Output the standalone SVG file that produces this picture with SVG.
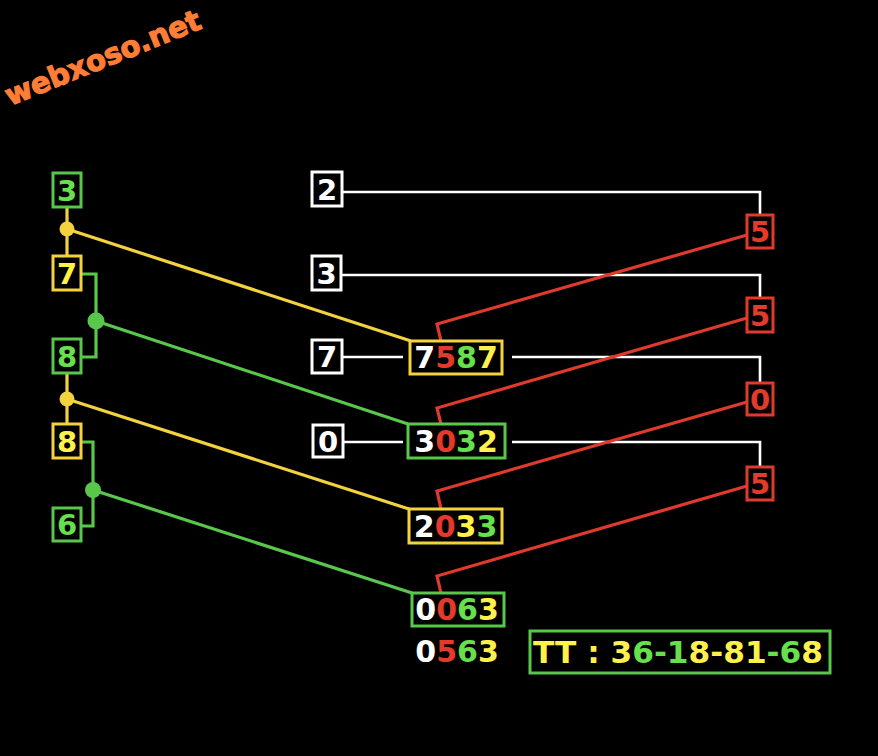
<svg xmlns="http://www.w3.org/2000/svg" width="878" height="756" viewBox="0 0 878 756">
<style>
.bg{fill:#000}
text{font-family:"DejaVu Sans","Liberation Sans",sans-serif;font-weight:bold}
.d{font-size:29px;text-anchor:middle}
.q{font-size:30px;text-anchor:middle}
.box{fill:#000;stroke-width:3}
.g{stroke:#58c74b}.y{stroke:#f3d23f}.w{stroke:#fff}.r{stroke:#df3a2b}
.tg{fill:#66e04c}.ty{fill:#fff14c}.tw{fill:#fff}.tr{fill:#e33a2a}
.ln{fill:none;stroke-width:3.2;stroke-linejoin:miter}
.wl{fill:none;stroke:#fff;stroke-width:2.6}
</style>
<rect class="bg" x="0" y="0" width="878" height="756"/>
<text x="10" y="106" transform="rotate(-22 10 106)" style="font-size:29px;fill:#ff7d35;stroke:#ff7d35;stroke-width:1.2;font-family:'DejaVu Sans',sans-serif;font-weight:bold">webxoso.net</text>

<g id="connectors">
<path class="wl" d="M342 192H760V215"/>
<path class="wl" d="M341 275H760V298"/>
<path class="wl" d="M342 357H403"/>
<path class="wl" d="M512 357H760V383"/>
<path class="wl" d="M343 442H403"/>
<path class="wl" d="M512 442H760V467"/>
<path class="ln r" d="M747 235L437 324L441 341"/>
<path class="ln r" d="M747 318L437 408L441 424"/>
<path class="ln r" d="M747 402L437 491L441 509"/>
<path class="ln r" d="M747 486L437 576L441 593"/>
<path class="ln y" d="M67 207V256"/>
<path class="ln y" d="M67 229L411 341"/>
<path class="ln y" d="M67 373V424"/>
<path class="ln y" d="M67 399L409 509"/>
<path class="ln g" d="M81 274H96V357H81"/>
<path class="ln g" d="M96 321L408 424"/>
<path class="ln g" d="M81 442H93V526H81"/>
<path class="ln g" d="M93 490L412 593"/>
<circle cx="67" cy="229" r="7.5" fill="#f3d23f"/>
<circle cx="96" cy="321" r="8.5" fill="#58c74b"/>
<circle cx="67" cy="399" r="7.5" fill="#f3d23f"/>
<circle cx="93" cy="490" r="8" fill="#58c74b"/>
</g>

<g id="L1"><rect class="box g" x="53" y="173" width="28" height="34"/><text class="d tg" x="67" y="200.5">3</text></g>
<g id="L2"><rect class="box y" x="53" y="256" width="28" height="34"/><text class="d ty" x="67" y="283.5">7</text></g>
<g id="L3"><rect class="box g" x="53" y="339" width="28" height="34"/><text class="d tg" x="67" y="366.5">8</text></g>
<g id="L4"><rect class="box y" x="53" y="424" width="28" height="34"/><text class="d ty" x="67" y="451.5">8</text></g>
<g id="L5"><rect class="box g" x="53" y="508" width="28" height="33"/><text class="d tg" x="67" y="535">6</text></g>

<g id="M1"><rect class="box w" x="312" y="172" width="30" height="34"/><text class="d tw" x="327" y="199.5">2</text></g>
<g id="M2"><rect class="box w" x="312" y="256" width="29" height="34"/><text class="d tw" x="326.5" y="283.5">3</text></g>
<g id="M3"><rect class="box w" x="312" y="340" width="30" height="33"/><text class="d tw" x="327" y="367">7</text></g>
<g id="M4"><rect class="box w" x="313" y="425" width="30" height="32"/><text class="d tw" x="328" y="451.5">0</text></g>

<g id="R1"><rect class="box r" x="747" y="215" width="26" height="33"/><text class="d tr" x="760" y="242">5</text></g>
<g id="R2"><rect class="box r" x="747" y="298" width="26" height="34"/><text class="d tr" x="760" y="325.5">5</text></g>
<g id="R3"><rect class="box r" x="747" y="383" width="26" height="32"/><text class="d tr" x="760" y="409.5">0</text></g>
<g id="R4"><rect class="box r" x="747" y="467" width="26" height="33"/><text class="d tr" x="760" y="494">5</text></g>

<g id="N1"><rect class="box y" x="410" y="341" width="92" height="33"/><text class="q" x="456" y="368"><tspan class="tw">7</tspan><tspan class="tr">5</tspan><tspan class="tg">8</tspan><tspan class="ty">7</tspan></text></g>
<g id="N2"><rect class="box g" x="408" y="424" width="97" height="34"/><text class="q" x="456" y="452"><tspan class="tw">3</tspan><tspan class="tr">0</tspan><tspan class="tg">3</tspan><tspan class="ty">2</tspan></text></g>
<g id="N3"><rect class="box y" x="409" y="509" width="93" height="34"/><text class="q" x="455.5" y="537"><tspan class="tw">2</tspan><tspan class="tr">0</tspan><tspan class="ty">3</tspan><tspan class="tg">3</tspan></text></g>
<g id="N4"><rect class="box g" x="412" y="593" width="92" height="33"/><text class="q" x="457" y="620"><tspan class="tw">0</tspan><tspan class="tr">0</tspan><tspan class="tg">6</tspan><tspan class="ty">3</tspan></text></g>
<g id="N5"><text class="q" x="457" y="662"><tspan class="tw">0</tspan><tspan class="tr">5</tspan><tspan class="tg">6</tspan><tspan class="ty">3</tspan></text></g>

<g id="TT"><rect class="box g" x="530" y="631" width="300" height="42"/><text x="533" y="663" style="font-size:31px" textLength="290" lengthAdjust="spacingAndGlyphs"><tspan class="ty">TT : 3</tspan><tspan class="tg">6-1</tspan><tspan class="ty">8-81</tspan><tspan class="tg">-6</tspan><tspan class="ty">8</tspan></text></g>
</svg>
